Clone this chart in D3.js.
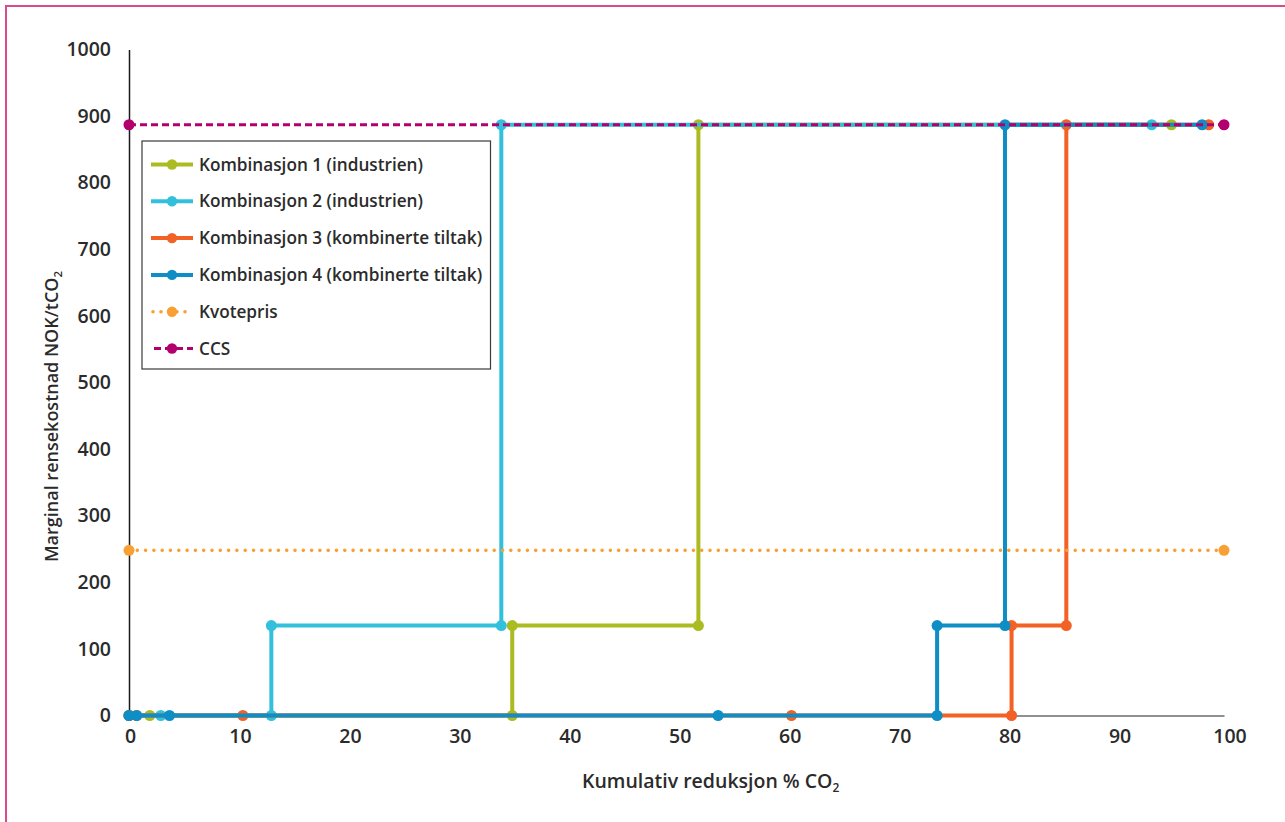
<!DOCTYPE html>
<html>
<head>
<meta charset="utf-8">
<script src="https://cdn.jsdelivr.net/npm/d3@7"></script>
<style>
  html, body { margin: 0; padding: 0; background: #fff; }
  svg { display: block; }
  text { font-family: "Open Sans", "Noto Sans", sans-serif; fill: #2b2b2b; }
</style>
</head>
<body>
<svg id="chart" width="1285" height="822"></svg>
<script>
// ---- data ----
const xTicks = [0, 10, 20, 30, 40, 50, 60, 70, 80, 90, 100];
const yTicks = [0, 100, 200, 300, 400, 500, 600, 700, 800, 900, 1000];

const k1X = [0, 1.9, 35.0, 35.0, 52.0, 52.0, 95.2];
const k1Y = [0, 0, 0, 135, 135, 887, 887];

const k2X = [0, 2.9, 13.0, 13.0, 34.0, 34.0, 93.4];
const k2Y = [0, 0, 0, 135, 135, 887, 887];

const k3X = [0, 0.7, 10.4, 60.5, 80.6, 80.6, 85.6, 85.6, 98.6];
const k3Y = [0, 0, 0, 0, 0, 135, 135, 887, 887];

const k4X = [0, 0.7, 3.7, 53.8, 73.8, 73.8, 80.0, 80.0, 98.0];
const k4Y = [0, 0, 0, 0, 0, 135, 135, 887, 887];

const kvoteX = [0, 100];
const kvoteY = [248, 248];

const ccsX = [0, 100];
const ccsY = [887, 887];

const seriesNames = [
  "Kombinasjon 1 (industrien)",
  "Kombinasjon 2 (industrien)",
  "Kombinasjon 3 (kombinerte tiltak)",
  "Kombinasjon 4 (kombinerte tiltak)",
  "Kvotepris",
  "CCS"
];
const seriesColors = ["#abbb22", "#33c0dc", "#f26125", "#0e8ec4", "#f8a033", "#b3006f"];
const seriesStyles = ["solid", "solid", "solid", "solid", "dotted", "dashed"];

const series = [
  {x: k1X, y: k1Y}, {x: k2X, y: k2Y}, {x: k3X, y: k3Y},
  {x: k4X, y: k4Y}, {x: kvoteX, y: kvoteY}, {x: ccsX, y: ccsY}
].map((s, i) => ({
  name: seriesNames[i], color: seriesColors[i], style: seriesStyles[i],
  points: s.x.map((v, j) => ({x: v, y: s.y[j]}))
}));

// ---- drawing ----
const svg = d3.select("#chart");

// pink frame
svg.append("path")
  .attr("d", "M6,822 L6,6 L1285,6")
  .attr("fill", "none").attr("stroke", "#d84b8e").attr("stroke-width", 2);

const x = d3.scaleLinear().domain([0, 100]).range([129, 1224]);
const y = d3.scaleLinear().domain([0, 1000]).range([715.5, 49.5]);

// x axis
const xAxis = svg.append("g").attr("transform", `translate(0,${y(0)})`)
  .call(d3.axisBottom(x).tickValues(xTicks).tickSize(0).tickPadding(14).tickFormat(d3.format("d")));
xAxis.select(".domain").attr("stroke", "#6b6b6b").attr("stroke-width", 1.5);
xAxis.selectAll("text").attr("font-size", 19.5).attr("font-weight", 600).attr("fill", "#2a2a2a")
  .attr("font-family", '"Open Sans", sans-serif')
  .attr("dx", (d) => 1 + d * 0.045);

// y axis
const yAxis = svg.append("g").attr("transform", `translate(${x(0)},0)`)
  .call(d3.axisLeft(y).tickValues(yTicks).tickSize(0).tickPadding(18).tickFormat(d3.format("d")));
yAxis.select(".domain").attr("stroke", "#1a1a1a").attr("stroke-width", 1.5);
yAxis.selectAll("text").attr("font-size", 19.5).attr("font-weight", 600).attr("fill", "#2a2a2a")
  .attr("font-family", '"Open Sans", sans-serif');

// axis titles
const xt = svg.append("text").attr("x", 582).attr("y", 788)
  .attr("text-anchor", "start").attr("font-size", 19.5).attr("font-weight", 600);
xt.append("tspan").text("Kumulativ reduksjon % CO");
xt.append("tspan").text("2").attr("font-size", 12).attr("dy", 4);

const yt = svg.append("text")
  .attr("transform", "translate(58,562) rotate(-90)")
  .attr("text-anchor", "start").attr("font-size", 18).attr("font-weight", 600);
yt.append("tspan").text("Marginal rensekostnad NOK/tCO");
yt.append("tspan").text("2").attr("font-size", 11.5).attr("dy", 4);

// lines
const line = d3.line().x(d => x(d.x)).y(d => y(d.y));
function styleLine(sel, s) {
  sel.attr("fill", "none").attr("stroke", s.color);
  if (s.style === "solid") sel.attr("stroke-width", 4).attr("stroke-linejoin", "round");
  if (s.style === "dotted") sel.attr("stroke-width", 3.6).attr("stroke-linecap", "round").attr("stroke-dasharray", "0,8.3");
  if (s.style === "dashed") sel.attr("stroke-width", 2.8).attr("stroke-dasharray", "7,4");
}

const g = svg.append("g");
series.forEach(s => {
  g.append("path").datum(s.points).attr("d", line).call(styleLine, s);
  g.selectAll(null).data(s.points).enter().append("circle")
    .attr("cx", d => x(d.x)).attr("cy", d => y(d.y)).attr("r", 5.5).attr("fill", s.color);
});

// legend
const lg = svg.append("g");
lg.append("rect").attr("x", 142).attr("y", 141).attr("width", 348.5).attr("height", 228)
  .attr("fill", "#fff").attr("stroke", "#3a3a3a").attr("stroke-width", 1.2);
const rowY = d3.scaleLinear().domain([0, 5]).range([164.5, 348.5]);
series.forEach((s, i) => {
  const ry = rowY(i);
  const lx1 = 151, lx2 = 193;
  const p = lg.append("line").attr("x1", lx1).attr("x2", lx2).attr("y1", ry).attr("y2", ry).call(styleLine, s);
  if (s.style === "dotted") p.attr("x1", lx1 + 2).attr("stroke-dasharray", "0,8");
  if (s.style === "dashed") p.attr("x1", lx1 + 3).attr("stroke-dasharray", "7,4");
  lg.append("circle").attr("cx", 172).attr("cy", ry).attr("r", 5.2).attr("fill", s.color);
  lg.append("text").attr("x", 199).attr("y", ry).attr("dy", "0.35em")
    .attr("font-size", 17.2).attr("font-weight", 600).text(s.name);
});
</script>
</body>
</html>
